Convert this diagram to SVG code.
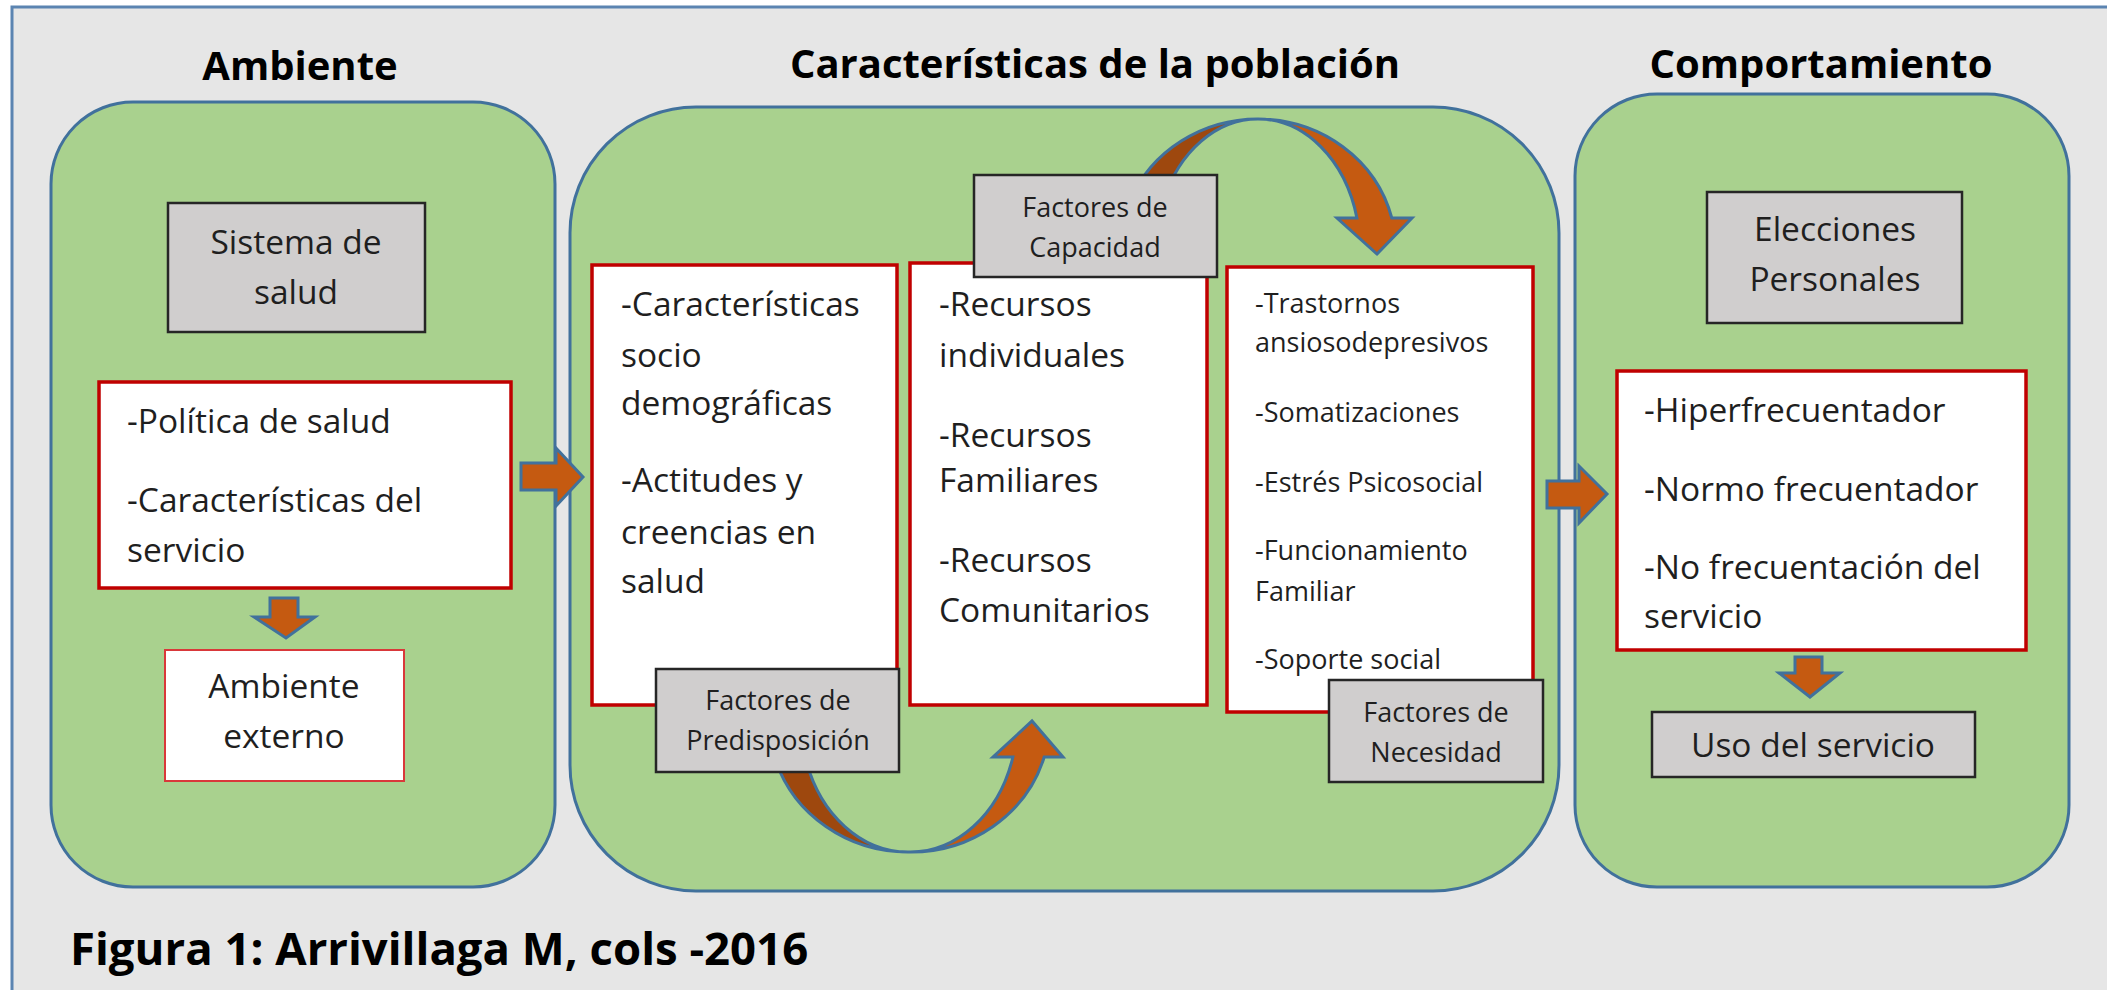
<svg xmlns="http://www.w3.org/2000/svg" width="2107" height="990" viewBox="0 0 2107 990">
<style>
.bg{fill:#e6e6e6;stroke:#5b84b1;stroke-width:3}
.panel{fill:#a9d18e;stroke:#41719c;stroke-width:3}
.gray{fill:#d0cece;stroke:#262626;stroke-width:2.5}
.red{fill:#ffffff;stroke:#c00000;stroke-width:3.5}
.red2{fill:#ffffff;stroke:#d9383a;stroke-width:2}
.arrow{fill:#c55a11;stroke:#41719c;stroke-width:3;stroke-linejoin:miter}
.arrowdark{fill:#9e480e;stroke:#41719c;stroke-width:3}
.title{font-family:"Open Sans","Liberation Sans",sans-serif;font-weight:bold;font-size:40px;fill:#000000;text-anchor:middle}
.cap{font-family:"Open Sans","Liberation Sans",sans-serif;font-weight:bold;font-size:45.5px;fill:#000000}
.t{font-family:"Open Sans","Liberation Sans",sans-serif;font-size:33.5px;fill:#1f1f1f}
.s{font-family:"Open Sans","Liberation Sans",sans-serif;font-size:27px;fill:#1f1f1f}
.c{text-anchor:middle}
</style>
<rect class="bg" x="12" y="7" width="2110" height="1000"/>
<g id="titles">
<text class="title" x="300" y="80">Ambiente</text>
<text class="title" x="1095" y="78">Características de la población</text>
<text class="title" x="1821" y="78">Comportamiento</text>
</g>
<g id="panel-ambiente"><rect class="panel" x="51" y="102" width="504" height="785" rx="82" ry="82"/></g>
<g id="panel-poblacion"><rect class="panel" x="570" y="107" width="989" height="784" rx="126" ry="126"/></g>
<g id="panel-comportamiento"><rect class="panel" x="1575" y="94" width="494" height="793" rx="82" ry="82"/></g>
<g id="connectors">
<path class="arrow" d="M521,463 L556,463 L556,448 L583,477 L556,506 L556,490 L521,490 Z"/>
<path class="arrow" d="M1547,481 L1579,481 L1579,466 L1607,494 L1579,523 L1579,508 L1547,508 Z"/>
<path class="arrow" d="M270,598 L298,598 L298,617 L315,617 L286,638 L254,617 L270,617 Z"/>
<path class="arrow" d="M1795,657 L1822,657 L1822,673 L1840,673 L1810,697 L1779,673 L1795,673 Z"/>
<path class="arrowdark" d="M1130.4,200 A138,131 0 0,1 1258,119 A102,131 0 0,0 1163.7,200 Z"/>
<path class="arrow" d="M1258,119 A138,131 0 0,1 1391.8,218 L1412,218 L1377,254 L1337,218 L1356.9,218 A102,131 0 0,0 1258,119 Z"/>
<path class="arrowdark" d="M775.5,760 A139,132 0 0,0 908,852 A107,132 0 0,1 806,760 Z"/>
<path class="arrow" d="M908,852 A139,132 0 0,0 1044.2,757 L1063,757 L1032,721 L993,757 L1012.9,757 A107,132 0 0,1 908,852 Z"/>
</g>
<g id="sistema-salud">
<rect class="gray" x="168" y="203" width="257" height="129"/>
<text class="t c" x="296" y="254">Sistema de</text>
<text class="t c" x="296" y="304">salud</text>
</g>
<g id="politica">
<rect class="red" x="99" y="382" width="412" height="206"/>
<text class="t" x="127" y="433">-Política de salud</text>
<text class="t" x="127" y="512">-Características del</text>
<text class="t" x="127" y="562">servicio</text>
</g>
<g id="ambiente-externo">
<rect class="red2" x="165" y="650" width="239" height="131"/>
<text class="t c" x="284" y="698">Ambiente</text>
<text class="t c" x="284" y="748">externo</text>
</g>
<g id="predisponentes">
<rect class="red" x="592" y="265" width="305" height="440"/>
<text class="t" x="621" y="316">-Características</text>
<text class="t" x="621" y="367">socio</text>
<text class="t" x="621" y="415">demográficas</text>
<text class="t" x="621" y="492">-Actitudes y</text>
<text class="t" x="621" y="544">creencias en</text>
<text class="t" x="621" y="593">salud</text>
</g>
<g id="capacidad">
<rect class="red" x="910" y="263" width="297" height="442"/>
<text class="t" x="939" y="316">-Recursos</text>
<text class="t" x="939" y="367">individuales</text>
<text class="t" x="939" y="447">-Recursos</text>
<text class="t" x="939" y="492">Familiares</text>
<text class="t" x="939" y="572">-Recursos</text>
<text class="t" x="939" y="622">Comunitarios</text>
</g>
<g id="necesidad">
<rect class="red" x="1227" y="267" width="306" height="445"/>
<text class="s" x="1255" y="313">-Trastornos</text>
<text class="s" x="1255" y="352">ansiosodepresivos</text>
<text class="s" x="1255" y="422">-Somatizaciones</text>
<text class="s" x="1255" y="492">-Estrés Psicosocial</text>
<text class="s" x="1255" y="560">-Funcionamiento</text>
<text class="s" x="1255" y="601">Familiar</text>
<text class="s" x="1255" y="669">-Soporte social</text>
</g>
<g id="factores-capacidad">
<rect class="gray" x="974" y="175" width="243" height="102"/>
<text class="s c" x="1095" y="217">Factores de</text>
<text class="s c" x="1095" y="257">Capacidad</text>
</g>
<g id="factores-predisposicion">
<rect class="gray" x="656" y="669" width="243" height="103"/>
<text class="s c" x="778" y="710">Factores de</text>
<text class="s c" x="778" y="750">Predisposición</text>
</g>
<g id="factores-necesidad">
<rect class="gray" x="1329" y="680" width="214" height="102"/>
<text class="s c" x="1436" y="722">Factores de</text>
<text class="s c" x="1436" y="762">Necesidad</text>
</g>
<g id="elecciones">
<rect class="gray" x="1707" y="192" width="255" height="131"/>
<text class="t c" x="1835" y="241">Elecciones</text>
<text class="t c" x="1835" y="291">Personales</text>
</g>
<g id="frecuentacion">
<rect class="red" x="1617" y="371" width="409" height="279"/>
<text class="t" x="1644" y="422">-Hiperfrecuentador</text>
<text class="t" x="1644" y="501">-Normo frecuentador</text>
<text class="t" x="1644" y="579">-No frecuentación del</text>
<text class="t" x="1644" y="628">servicio</text>
</g>
<g id="uso-servicio">
<rect class="gray" x="1652" y="712" width="323" height="65"/>
<text class="t c" x="1813" y="757">Uso del servicio</text>
</g>
<text class="cap" x="70" y="965">Figura 1: Arrivillaga M, cols -2016</text>
</svg>
